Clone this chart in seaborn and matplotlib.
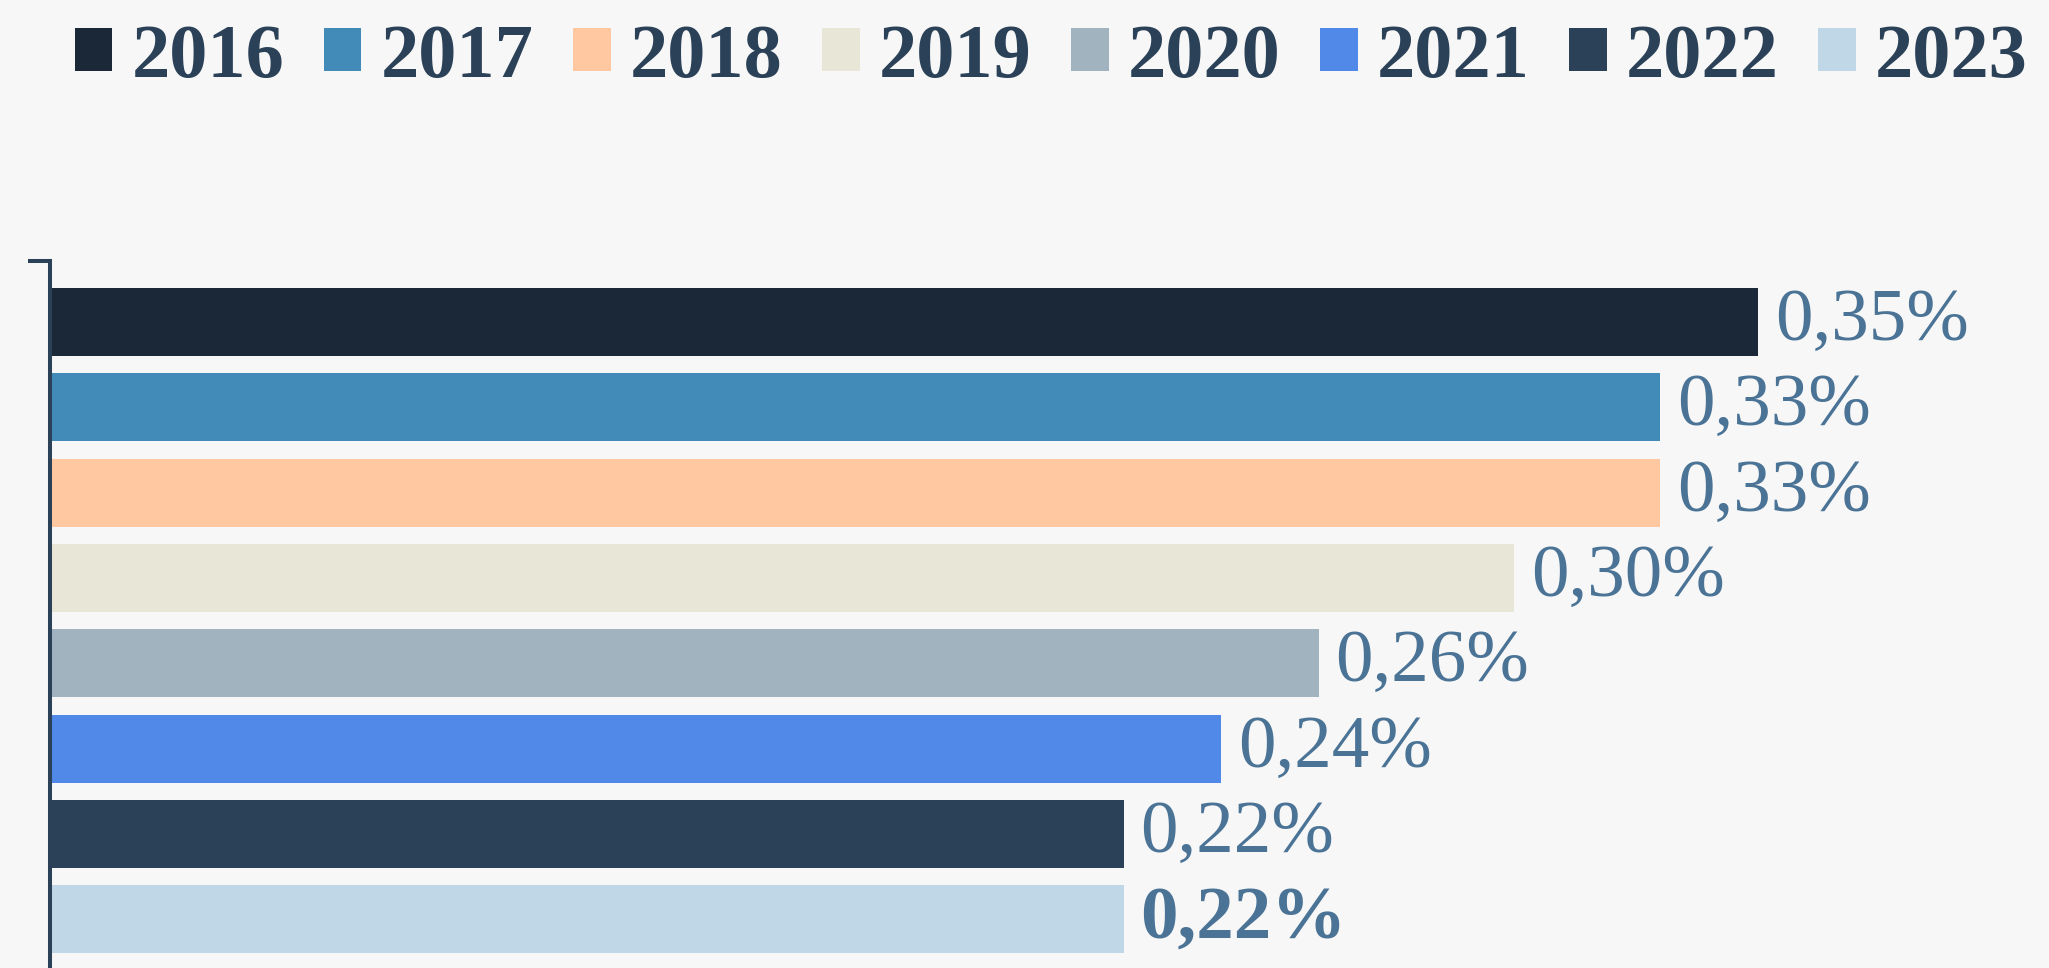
import matplotlib
matplotlib.use("Agg")
import matplotlib.pyplot as plt
from matplotlib.patches import Patch
import seaborn as sns
import pandas as pd

# data
years = ["2016", "2017", "2018", "2019", "2020", "2021", "2022", "2023"]
values = [0.35, 0.33, 0.33, 0.30, 0.26, 0.24, 0.22, 0.22]
colors = ["#1b2838", "#428bb9", "#ffc8a0", "#e8e6d6",
          "#a0b3bf", "#5089e8", "#2b4158", "#bfd7e6"]

bg = "#f7f7f7"
dark = "#2b4158"
label_col = "#4a7396"

sns.set_theme(style="white")
plt.rcParams["font.family"] = ["Liberation Serif", "DejaVu Serif"]

df = pd.DataFrame({"year": years, "value": values})

fig = plt.figure(figsize=(20.49, 9.68), dpi=100, facecolor=bg)
ax = fig.add_axes([50 / 2049, 0.0, 0.98 - 50 / 2049, 1 - 261 / 968])
ax.set_facecolor(bg)

sns.barplot(data=df, x="value", y="year", hue="year", palette=colors,
            orient="h", width=0.8, legend=False, saturation=1, linewidth=0, ax=ax)

# value labels, last one bold
for i, cont in enumerate(ax.containers):
    txt = [f"{v:.2f}".replace(".", ",") + "%" for v in cont.datavalues]
    ax.bar_label(cont, labels=txt, padding=12, fontsize=54, color=label_col,
                 fontweight="bold" if i == len(ax.containers) - 1 else "normal")

ax.set_xlim(0, (0.98 * 2049 - 50) / 4880)
ax.set_ylim(7.57, -0.715)
ax.set_xlabel("")
ax.set_ylabel("")
ax.set_xticks([])
ax.set_yticks([-0.715])
ax.set_yticklabels([])
ax.tick_params(axis="y", length=15.8, width=2.9, color=dark, direction="out", left=True)
for s in ["top", "right", "bottom"]:
    ax.spines[s].set_visible(False)
ax.spines["left"].set_color(dark)
ax.spines["left"].set_linewidth(2.9)

handles = [Patch(facecolor=c, edgecolor="none") for c in colors]
fig.legend(handles, years, loc="center left", bbox_to_anchor=(75 / 2049, 1 - 58 / 968),
           ncol=8, frameon=False, prop={"weight": "bold", "size": 55},
           labelcolor=dark, handlelength=0.49, handleheight=0.49, handletextpad=0.25,
           columnspacing=0.52, borderpad=0, borderaxespad=0)

fig.savefig("out.png", dpi=100, facecolor=bg)
